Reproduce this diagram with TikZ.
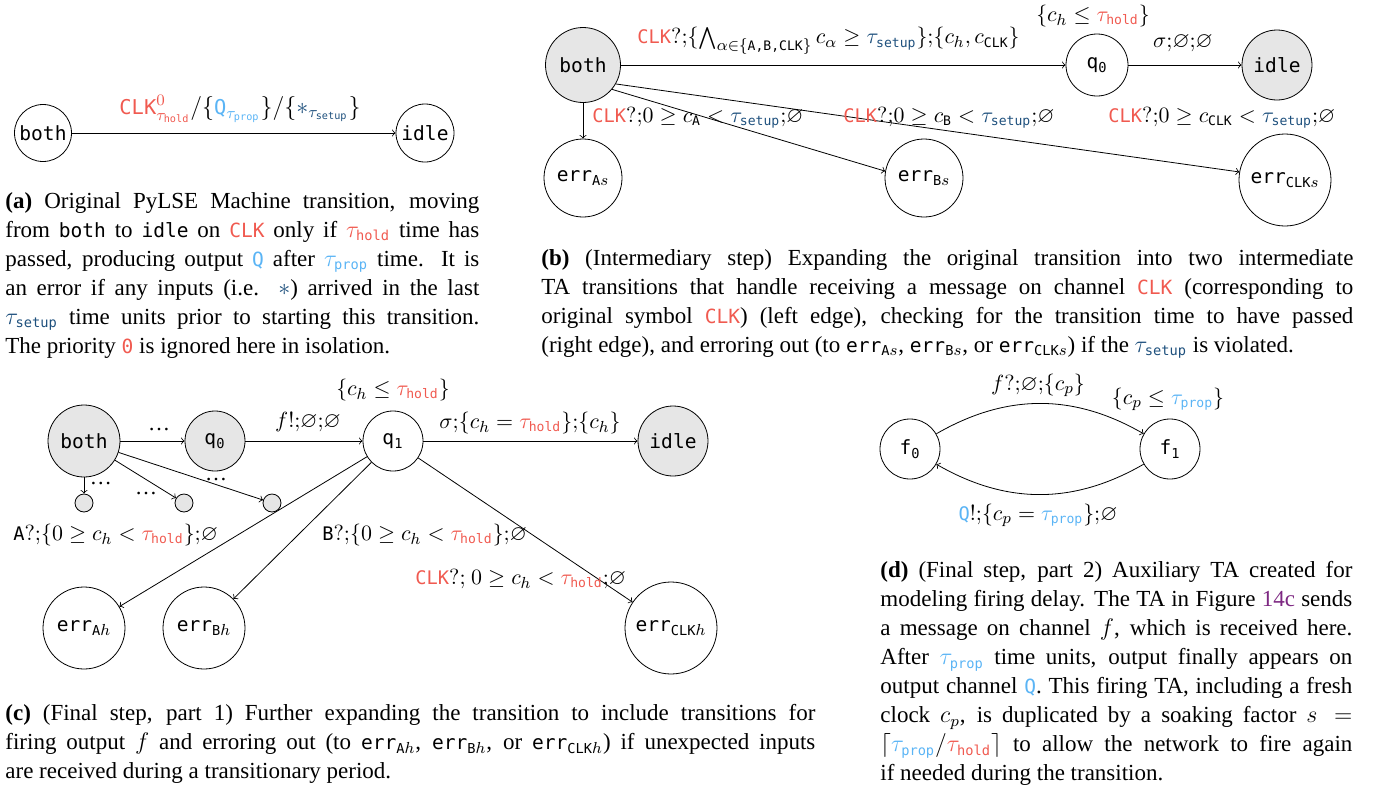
\documentclass[tikz,border=0pt]{standalone}
\usepackage{amsmath,amssymb}
\usepackage{fontspec}
\setmainfont{Liberation Serif}
\setmonofont{DejaVu Sans Mono}[Scale=0.85]
\usetikzlibrary{calc}

\definecolor{clkred}{RGB}{240,90,80}
\definecolor{propblue}{RGB}{90,180,245}
\definecolor{setupblue}{RGB}{30,80,125}
\definecolor{stategray}{RGB}{230,230,230}
\definecolor{figpurple}{RGB}{125,40,130}

\newcommand{\tclk}{\textcolor{clkred}{\texttt{CLK}}}
\newcommand{\thold}{\textcolor{clkred}{\tau_{\texttt{hold}}}}
\newcommand{\tsetup}{\textcolor{setupblue}{\tau_{\texttt{setup}}}}
\newcommand{\tprop}{\textcolor{propblue}{\tau_{\texttt{prop}}}}
\newcommand{\tq}{\textcolor{propblue}{\texttt{Q}}}
\newcommand{\errloc}[2]{\texttt{err}$_{\texttt{#1}#2}$}

\begin{document}
\begin{tikzpicture}[x=0.5pt, y=-0.5pt,
  tastate/.style={draw, circle, inner sep=0pt, minimum size=#1, font=\fontsize{11.5}{13}\selectfont\ttfamily},
  graystate/.style={tastate=#1, fill=stategray},
  dotstate/.style={draw, circle, fill=stategray, inner sep=0pt, minimum size=9pt},
  tr/.style={->},
  lbl/.style={inner sep=1pt, font=\fontsize{11}{13}\selectfont},
  capt/.style={anchor=north west, inner sep=0pt, align=justify, font=\fontsize{11.5}{14.5}\selectfont}]
\useasboundingbox (0,0) rectangle (1378,788);

% (a) original machine transition
\node[tastate=28.5pt] (aboth) at (43,133) {both};
\node[tastate=29pt] (aidle) at (425,133) {idle};
\draw[tr] (aboth) -- (aidle);
\node[lbl, font=\fontsize{12}{14}\selectfont] (alab) at (240,109) {$\textcolor{clkred}{\texttt{CLK}^{0}_{\tau_{\texttt{hold}}}}/\{\textcolor{propblue}{\texttt{Q}_{\tau_{\texttt{prop}}}}\}/\{\textcolor{setupblue}{\ast_{\tau_{\texttt{setup}}}}\}$};

% (b) intermediary step
\node[graystate=37.5pt] (bboth) at (583,65) {both};
\node[tastate=31pt] (bq0) at (1097,65) {q$_{\texttt{0}}$};
\node[graystate=35pt] (bidle) at (1277,65) {idle};
\node[tastate=39pt] (berrA) at (583,178) {\errloc{A}{s}};
\node[tastate=39pt] (berrB) at (924,178) {\errloc{B}{s}};
\node[tastate=46pt] (berrCLK) at (1285,180) {\errloc{CLK}{s}};
\draw[tr] (bboth) -- (bq0);
\draw[tr] (bq0) -- (bidle);
\draw[tr] (bboth) -- (berrA);
\draw[tr] (bboth.-40) -- (berrB.170);
\draw[tr] (bboth.-30) -- (berrCLK.170);
\node[lbl, anchor=west] (bltop) at (635,41) {$\tclk?{;}\{\bigwedge_{\alpha\in\{\texttt{A,B,CLK}\}} c_\alpha \ge \tsetup\}{;}\{c_h, c_{\texttt{CLK}}\}$};
\node[lbl] (binv) at (1093,16) {$\{c_h \le \thold\}$};
\node[lbl] (bsig) at (1183,43) {$\sigma{;}\varnothing{;}\varnothing$};
\node[lbl, anchor=west] (blA) at (590,118) {$\tclk?{;}0 \ge c_{\texttt{A}} < \tsetup{;}\varnothing$};
\node[lbl, anchor=west] (blB) at (841,118) {$\tclk?{;}0 \ge c_{\texttt{B}} < \tsetup{;}\varnothing$};
\node[lbl, anchor=west] (blC) at (1106,118) {$\tclk?{;}0 \ge c_{\texttt{CLK}} < \tsetup{;}\varnothing$};

% (c) final step, part 1
\node[graystate=36pt] (cboth) at (84,441) {both};
\node[graystate=30pt] (cq0) at (215,441) {q$_{\texttt{0}}$};
\node[tastate=30pt] (cq1) at (393,441) {q$_{\texttt{1}}$};
\node[graystate=35pt] (cidle) at (673,441) {idle};
\node[dotstate] (cd1) at (84,503) {};
\node[dotstate] (cd2) at (184,503) {};
\node[dotstate] (cd3) at (272,503) {};
\node[tastate=41pt] (cerrA) at (84,628) {\errloc{A}{h}};
\node[tastate=41pt] (cerrB) at (204,628) {\errloc{B}{h}};
\node[tastate=46pt] (cerrCLK) at (671,628) {\errloc{CLK}{h}};
\draw[tr] (cboth) -- (cq0);
\draw[tr] (cq0) -- (cq1);
\draw[tr] (cq1) -- (cidle);
\draw[tr] (cboth) -- (cd1);
\draw[tr] (cboth) -- (cd2);
\draw[tr] (cboth) -- (cd3);
\draw[tr] (cq1) -- (cerrA);
\draw[tr] (cq1) -- (cerrB);
\draw[tr] (cq1) -- (cerrCLK);
\node[lbl] (cdots0) at (159,430) {\dots};
\node[lbl] (cdots1) at (101,484) {\dots};
\node[lbl] (cdots2) at (146,494) {\dots};
\node[lbl] (cdots3) at (216,480) {\dots};
\node[lbl] (cfire) at (308,422) {$f!{;}\varnothing{;}\varnothing$};
\node[lbl] (cinv) at (393,390) {$\{c_h \le \thold\}$};
\node[lbl] (csig) at (530,423) {$\sigma{;}\{c_h = \thold\}{;}\{c_h\}$};
\node[lbl, anchor=west] (clA) at (11,535) {$\texttt{A}?{;}\{0 \ge c_h < \thold\}{;}\varnothing$};
\node[lbl, anchor=west] (clB) at (320,535) {$\texttt{B}?{;}\{0 \ge c_h < \thold\}{;}\varnothing$};
\node[lbl, anchor=west] (clC) at (413,579) {$\tclk?{;}\ 0 \ge c_h < \thold{;}\varnothing$};

% (d) final step, part 2
\node[tastate=30pt] (f0) at (910,449) {f$_{\texttt{0}}$};
\node[tastate=30pt] (f1) at (1170,449) {f$_{\texttt{1}}$};
\draw[tr] (f0) to[bend left=30] (f1);
\draw[tr] (f1) to[bend left=30] (f0);
\node[lbl] (dfq) at (1038,385) {$f?{;}\varnothing{;}\{c_p\}$};
\node[lbl] (dinv) at (1168,399) {$\{c_p \le \tprop\}$};
\node[lbl] (dq) at (1038,515) {$\tq!{;}\{c_p = \tprop\}{;}\varnothing$};

% Captions
\node[capt, text width=237pt] (capa) at (5,192) {\textbf{(a)} Original PyLSE Machine transition, moving\linebreak
from \texttt{both} to \texttt{idle} on \tclk\ only if $\thold$ time has\linebreak
passed, producing output \tq\ after $\tprop$ time. It is\linebreak
an error if any inputs (i.e. $\textcolor{setupblue}{\ast}$) arrived in the last\linebreak
$\tsetup$ time units prior to starting this transition.\linebreak
The priority \textcolor{clkred}{\texttt{0}} is ignored here in isolation.};
\node[capt, text width=406pt] (capb) at (541,249) {\textbf{(b)} (Intermediary step) Expanding the original transition into two intermediate\linebreak
TA transitions that handle receiving a message on channel \tclk\ (corresponding to\linebreak
original symbol \tclk) (left edge), checking for the transition time to have passed\linebreak
(right edge), and erroring out (to \errloc{A}{s}, \errloc{B}{s}, or \errloc{CLK}{s}) if the $\tsetup$ is violated.};
\node[capt, text width=405pt] (capc) at (5,704) {\textbf{(c)} (Final step, part 1) Further expanding the transition to include transitions for\linebreak
firing output $f$ and erroring out (to \errloc{A}{h}, \errloc{B}{h}, or \errloc{CLK}{h}) if unexpected inputs\linebreak
are received during a transitionary period.};
\node[capt, text width=236pt] (capd) at (880,561) {\textbf{(d)} (Final step, part 2) Auxiliary TA created for\linebreak
modeling firing delay. The TA in Figure \textcolor{figpurple}{14c} sends\linebreak
a message on channel $f$, which is received here.\linebreak
After $\tprop$ time units, output finally appears on\linebreak
output channel \tq. This firing TA, including a fresh\linebreak
clock $c_p$, is duplicated by a soaking factor $s =$\linebreak
$\lceil \tprop/\thold \rceil$ to allow the network to fire again\linebreak
if needed during the transition.};
\end{tikzpicture}
\end{document}
